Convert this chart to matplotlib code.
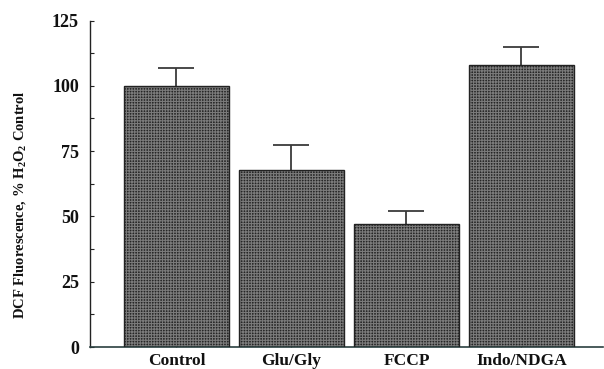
import matplotlib
matplotlib.use("Agg")
import matplotlib.pyplot as plt
import numpy as np

categories = ["Control", "Glu/Gly", "FCCP", "Indo/NDGA"]
values = [100.0, 67.7, 47.0, 108.0]
errors = [7.0, 9.7, 4.9, 6.8]
yticks = [0, 25, 50, 75, 100, 125]

plt.rcParams['font.family'] = ['Liberation Serif', 'DejaVu Serif']
plt.rcParams['mathtext.fontset'] = 'custom'
plt.rcParams['mathtext.rm'] = 'Liberation Serif:bold'
plt.rcParams['mathtext.default'] = 'rm'
plt.rcParams['hatch.color'] = '#7a7a7a'
plt.rcParams['hatch.linewidth'] = 0.8

fig = plt.figure(figsize=(6.04, 3.69), dpi=100)
ax = fig.add_axes([90/604, 22/369, 513/604, 326.5/369])

x = np.arange(len(categories))
ax.errorbar(x, values, yerr=errors, fmt='none', ecolor='#3a3a3a',
            elinewidth=1.3, capsize=13, capthick=1.3, zorder=1)
ax.bar(x, values, width=0.913, color='#262626', hatch='++++++', edgecolor='#7a7a7a', linewidth=0, zorder=2)
ax.bar(x, values, width=0.913, facecolor='none', edgecolor='#222222', linewidth=1.0, zorder=3)

ax.set_xlim(-0.752, 3.709)
ax.set_ylim(0, 125)
ax.set_yticks(yticks)
ax.set_yticklabels([str(t) for t in yticks], fontsize=13, fontweight='bold')
ax.set_yticks(np.arange(12.5, 125, 25), minor=True)
ax.set_xticks(x)
ax.set_xticklabels(categories, fontsize=12.5, fontweight='bold')
ax.tick_params(axis='y', which='both', direction='in', length=3, width=0.8, pad=8, colors='#222222')
ax.tick_params(axis='x', direction='in', length=2, width=0.8, pad=4, colors='#222222')
for lab in ax.get_xticklabels() + ax.get_yticklabels():
    lab.set_color('#111111')
for s in ['top', 'right']:
    ax.spines[s].set_visible(False)
ax.spines['left'].set_color('#222222')
ax.spines['bottom'].set_color('#2a3f3f')
ax.spines['left'].set_linewidth(1.0)
ax.spines['bottom'].set_linewidth(1.2)

ax.set_ylabel(r"DCF Fluorescence, % H$_2$O$_2$ Control", fontsize=10.5, fontweight='bold', color='#111111')
ax.yaxis.set_label_coords(-0.121, 0.435)

fig.savefig("out.png", dpi=100)
